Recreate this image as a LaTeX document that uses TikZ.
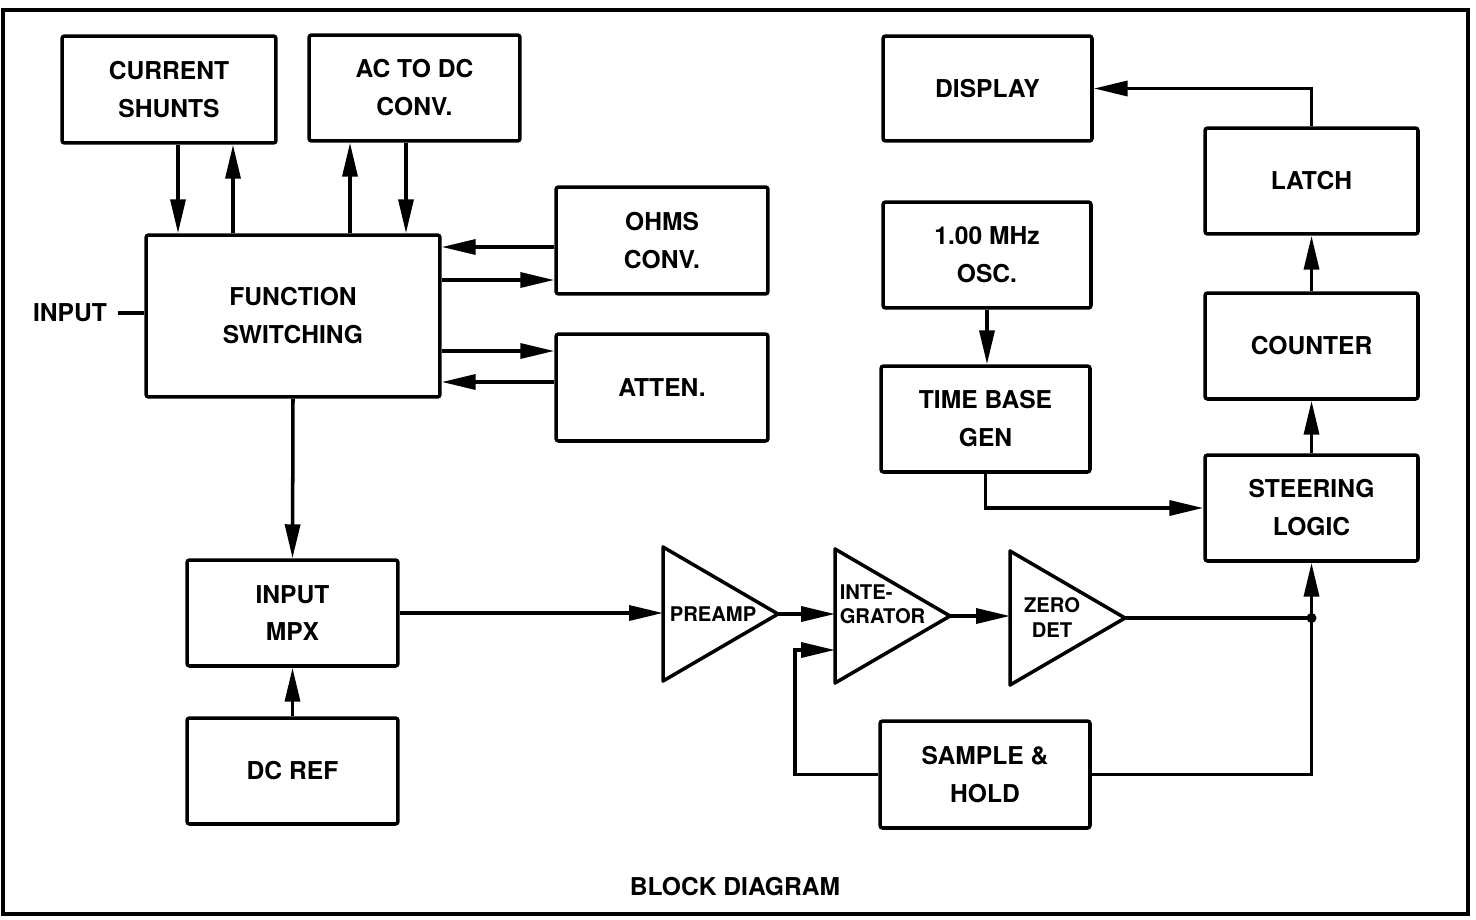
\documentclass[tikz,border=0pt]{standalone}
\usepackage{fontspec}
\setmainfont{TeX Gyre Heros}
\usetikzlibrary{arrows.meta}
\begin{document}
\begin{tikzpicture}[x=0.02cm,y=-0.02cm,
  line width=2pt,
  box/.style={draw, rounded corners=1.5pt, inner sep=0pt, align=center,
    font=\fontsize{14pt}{21.6pt}\selectfont\bfseries},
  lbl/.style={inner sep=0pt, align=center, font=\fontsize{14pt}{21.6pt}\selectfont\bfseries},
  tlbl/.style={inner sep=0pt, font=\fontsize{11.5pt}{14pt}\selectfont\bfseries},
  arr/.style={-{Triangle[length=0.68cm,width=0.3cm]}},
  amp/.style={draw, line join=round}
]
\useasboundingbox (0,0) rectangle (1476,919);
\draw[line width=2.2pt] (3,10) rectangle (1468,914);

% boxes
\node[box, minimum width=4.28cm, minimum height=2.14cm] (shunts) at (169,89.5) {CURRENT\\SHUNTS};
\node[box, minimum width=4.22cm, minimum height=2.12cm] (acdc) at (414.5,88) {AC TO DC\\CONV.};
\node[box, minimum width=4.18cm, minimum height=2.10cm] (display) at (987.5,88.5) {DISPLAY};
\node[box, minimum width=4.24cm, minimum height=2.14cm] (ohms) at (662,240.5) {OHMS\\CONV.};
\node[box, minimum width=4.24cm, minimum height=2.14cm] (atten) at (662,387.5) {ATTEN.};
\node[box, minimum width=5.88cm, minimum height=3.24cm] (fs) at (293,316) {FUNCTION\\SWITCHING};
\node[box, minimum width=4.16cm, minimum height=2.12cm] (osc) at (987,255) {1.00 MHz\\OSC.};
\node[box, minimum width=4.18cm, minimum height=2.12cm] (tb) at (985.5,419) {TIME BASE\\GEN};
\node[box, minimum width=4.26cm, minimum height=2.12cm] (latch) at (1311.5,181) {LATCH};
\node[box, minimum width=4.26cm, minimum height=2.12cm] (counter) at (1311.5,346) {COUNTER};
\node[box, minimum width=4.26cm, minimum height=2.12cm] (steer) at (1311.5,508) {STEERING\\LOGIC};
\node[box, minimum width=4.22cm, minimum height=2.12cm] (mpx) at (292.5,613) {INPUT\\MPX};
\node[box, minimum width=4.22cm, minimum height=2.12cm] (dcref) at (292.5,771) {DC REF};
\node[box, minimum width=4.20cm, minimum height=2.14cm] (sh) at (985,774.5) {SAMPLE \&\\HOLD};

\node[lbl] (inlab) at (70,313) {INPUT};
\node[lbl] (title) at (735,887) {BLOCK DIAGRAM};

% amplifiers
\coordinate (preT) at (663,547); \coordinate (preB) at (663,681); \coordinate (preA) at (778,614);
\coordinate (intT) at (835,549); \coordinate (intB) at (835,683); \coordinate (intA) at (950,616);
\coordinate (zeroT) at (1010,551); \coordinate (zeroB) at (1010,685); \coordinate (zeroA) at (1125,618);
\draw[amp] (preT) -- (preA) -- (preB) -- cycle;
\draw[amp] (intT) -- (intA) -- (intB) -- cycle;
\draw[amp] (zeroT) -- (zeroA) -- (zeroB) -- cycle;
\node[tlbl] (prelab) at (713,614) {PREAMP};
\node[tlbl, anchor=west] (intlab1) at (838,592) {INTE-};
\node[tlbl, anchor=west] (intlab2) at (838,616) {GRATOR};
\node[tlbl] (zerolab1) at (1052,605) {ZERO};
\node[tlbl] (zerolab2) at (1052,630) {DET};

\coordinate (preIn) at (663,613);
\coordinate (intIn) at (835,614);
\coordinate (intFb) at (835,650);
\coordinate (fbc) at (795,650);
\coordinate (zeroIn) at (1010,616);
\coordinate (jn) at (1311.5,618);

% connectors top-left
\draw[arr] (shunts.south -| 178,0) -- (fs.north -| 178,0);
\draw[arr] (fs.north -| 233,0) -- (shunts.south -| 233,0);
\draw[arr] (fs.north -| 350,0) -- (acdc.south -| 350,0);
\draw[arr] (acdc.south -| 406,0) -- (fs.north -| 406,0);
\draw[arr] (ohms.west |- 0,247) -- (fs.east |- 0,247);
\draw[arr] (fs.east |- 0,280) -- (ohms.west |- 0,280);
\draw[arr] (fs.east |- 0,351) -- (atten.west |- 0,351);
\draw[arr] (atten.west |- 0,382) -- (fs.east |- 0,382);
\draw (inlab.east) ++(9,0) coordinate (inl) -- (fs.west |- inl);
\draw[arr] (fs.south) -- (mpx.north);
\draw[arr] (dcref.north) -- (mpx.south);

% signal chain
\draw[arr] (mpx.east |- preIn) -- (preIn);
\draw[arr] (preA) -- (intIn);
\draw[arr] (intA) -- (zeroIn);
\draw (zeroA) -- (jn);
\fill (jn) circle (0.1cm);
\draw[arr] (jn) -- (steer.south);
\draw (jn) |- (sh.east);
\draw[arr] (sh.west) -| (fbc) -- (intFb);

% right side
\draw[arr] (osc.south -| 987,0) -- (tb.north -| 987,0);
\draw[arr] (tb.south) |- (steer.west);
\draw[arr] (steer.north) -- (counter.south);
\draw[arr] (counter.north) -- (latch.south);
\draw[arr] (latch.north) |- (display.east);
\end{tikzpicture}
\end{document}
